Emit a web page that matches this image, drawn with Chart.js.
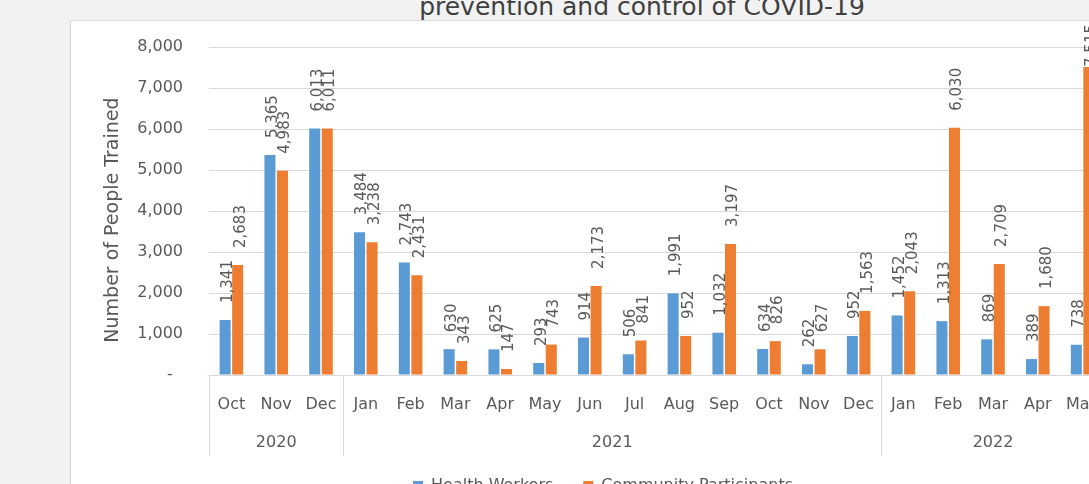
<!DOCTYPE html>
<html>
<head>
<meta charset="utf-8">
<script src="https://cdn.jsdelivr.net/npm/chart.js@4"></script>
<style>
html, body { margin: 0; padding: 0; width: 1089px; height: 484px; overflow: hidden; background: #f2f2f2; }
#title { position: absolute; left: 0; top: -8px; width: 1284px; text-align: center; font: 25px "DejaVu Sans"; line-height: 29px; color: #404040; white-space: nowrap; }
#box { position: absolute; left: 70px; top: 20px; width: 1200px; height: 600px; background: #fff; border: 1px solid #d9d9d9; }
#wrap { position: absolute; left: 70px; top: 20px; width: 1066px; height: 484px; }
</style>
</head>
<body>
<div id="title">prevention and control of COVID-19</div>
<div id="box"></div>
<div id="wrap"><canvas id="trainedChart" width="1066" height="484"></canvas></div>
<script>
// months shown on the axis, with the year each one belongs to
var months = ['Oct', 'Nov', 'Dec', 'Jan', 'Feb', 'Mar', 'Apr', 'May', 'Jun', 'Jul', 'Aug', 'Sep', 'Oct', 'Nov', 'Dec', 'Jan', 'Feb', 'Mar', 'Apr', 'May'];
var years = ['2020', '2020', '2020', '2021', '2021', '2021', '2021', '2021', '2021', '2021', '2021', '2021', '2021', '2021', '2021', '2022', '2022', '2022', '2022', '2022'];

var healthWorkers = [1341, 5365, 6013, 3484, 2743, 630, 625, 293, 914, 506, 1991, 1032, 634, 262, 952, 1452, 1313, 869, 389, 738];
var communityParticipants = [2683, 4983, 6011, 3238, 2431, 343, 147, 743, 2173, 841, 952, 3197, 826, 627, 1563, 2043, 6030, 2709, 1680, 7515];

var yMax = 8000;
var yStep = 1000;

var textColor = '#595959';
var gridColor = '#d9d9d9';
Chart.defaults.font.family = '"DejaVu Sans", sans-serif';

// rotated value labels above each bar
var valueLabels = {
    id: 'valueLabels',
    afterDatasetsDraw: function(chart) {
        var ctx = chart.ctx;
        ctx.save();
        ctx.font = '15px "DejaVu Sans"';
        ctx.fillStyle = textColor;
        ctx.textAlign = 'left';
        ctx.textBaseline = 'middle';
        chart.data.datasets.forEach(function(ds, di) {
            chart.getDatasetMeta(di).data.forEach(function(bar, i) {
                var v = ds.data[i];
                if (v == null) return;
                var text = v.toLocaleString('en-US');
                var w = ctx.measureText(text).width;
                var start = Math.max(bar.y - 17, w + 4); // keep inside the chart like Excel
                ctx.save();
                ctx.translate(bar.x + 3, start);
                ctx.rotate(-Math.PI / 2);
                ctx.fillText(text, 0, 0);
                ctx.restore();
            });
        });
        ctx.restore();
    }
};

// second level of the x axis: years and group separators
var yearAxis = {
    id: 'yearAxis',
    afterDraw: function(chart) {
        var ctx = chart.ctx;
        var x = chart.scales.x;
        var bottom = chart.chartArea.bottom;
        var half = (x.getPixelForValue(1) - x.getPixelForValue(0)) / 2;
        ctx.save();
        ctx.strokeStyle = gridColor;
        ctx.lineWidth = 1;
        ctx.fillStyle = textColor;
        ctx.font = '16px "DejaVu Sans"';
        ctx.textAlign = 'center';
        ctx.textBaseline = 'middle';
        var sep = function(px) {
            var xx = Math.round(px) + 0.5;
            ctx.beginPath();
            ctx.moveTo(xx, bottom);
            ctx.lineTo(xx, bottom + 81);
            ctx.stroke();
        };
        var start = 0;
        for (var i = 1; i <= years.length; i++) {
            if (i === years.length || years[i] !== years[start]) {
                var left = x.getPixelForValue(start) - half;
                var right = x.getPixelForValue(i - 1) + half;
                sep(left);
                if (i === years.length) sep(right);
                ctx.fillText(years[start], (left + right) / 2, bottom + 68);
                start = i;
            }
        }
        ctx.restore();
    }
};

var ctx = document.getElementById('trainedChart').getContext('2d');
var trainedChart = new Chart(ctx, {
    type: 'bar',
    data: {
        labels: months,
        datasets: [{
            label: 'Health Workers',
            data: healthWorkers,
            backgroundColor: '#5b9bd5',
            categoryPercentage: 0.56,
            barPercentage: 0.88
        }, {
            label: 'Community Participants',
            data: communityParticipants,
            backgroundColor: '#ed7d31',
            categoryPercentage: 0.56,
            barPercentage: 0.88
        }]
    },
    options: {
        responsive: false,
        animation: false,
        devicePixelRatio: 1,
        layout: { padding: { top: 27, left: 0, right: 0, bottom: 0 } },
        plugins: {
            legend: {
                position: 'bottom',
                labels: {
                    boxWidth: 10,
                    boxHeight: 10,
                    padding: 30,
                    color: textColor,
                    font: { size: 16 }
                }
            },
            tooltip: { enabled: false }
        },
        scales: {
            x: {
                grid: { display: false, drawTicks: false },
                border: { display: false },
                ticks: { color: textColor, font: { size: 16 }, padding: 20, autoSkip: false, maxRotation: 0 },
                afterFit: function(s) { s.height = 73; }
            },
            y: {
                min: 0,
                max: yMax,
                grid: { color: gridColor, drawTicks: false },
                border: { display: false },
                ticks: {
                    stepSize: yStep,
                    padding: 26,
                    color: textColor,
                    font: { size: 16 },
                    callback: function(v) { return v === 0 ? '-  ' : v.toLocaleString('en-US'); }
                },
                title: {
                    display: true,
                    text: 'Number of People Trained   ',
                    color: textColor,
                    font: { size: 19 },
                    padding: { top: 32, bottom: 0 }
                },
                afterFit: function(s) {
                    s.width = 139;
                    s.paddingTop = 0;
                    s.paddingBottom = 0;
                }
            },
            yR: {
                position: 'right',
                grid: { drawOnChartArea: false, drawTicks: false },
                border: { display: false },
                ticks: { display: false },
                afterFit: function(s) { s.width = 31; }
            }
        }
    },
    plugins: [valueLabels, yearAxis]
});
</script>
</body>
</html>
